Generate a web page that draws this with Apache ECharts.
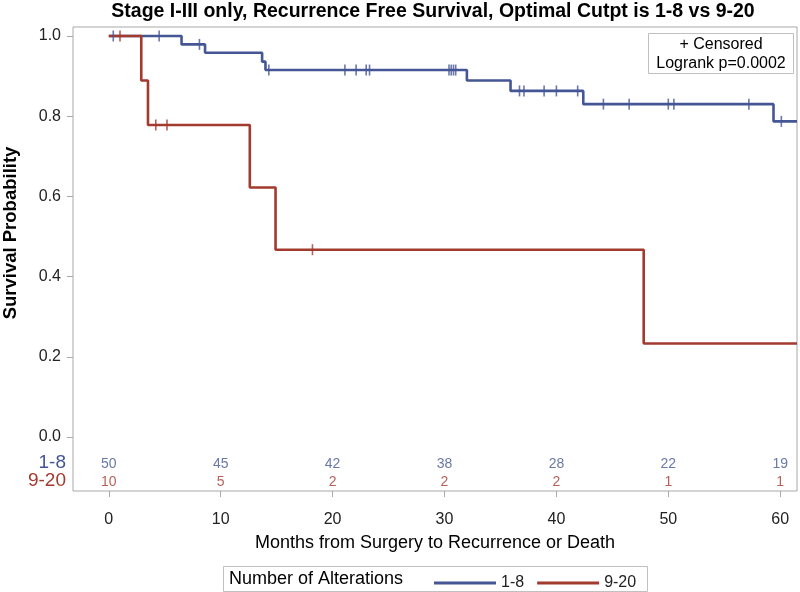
<!DOCTYPE html>
<html>
<head>
<meta charset="utf-8">
<script src="https://cdn.jsdelivr.net/npm/echarts@6/dist/echarts.min.js"></script>
<style>html,body{margin:0;padding:0;background:#fff;}#c{width:800px;height:592px;}</style>
</head>
<body>
<div id="c"></div>
<script>
const titleText = 'Stage I-III only, Recurrence Free Survival, Optimal Cutpt is 1-8 vs 9-20';
const groups = ['1-8', '9-20'];
const xTicks = [0, 10, 20, 30, 40, 50, 60];
const yTicks = [0, 0.2, 0.4, 0.6, 0.8, 1.0];
const blueTimes = [0, 6.5, 8.6, 13.7, 14.0, 32.0, 35.9, 42.4, 59.4];
const blueSurv  = [1, 0.979, 0.958, 0.936, 0.915, 0.889, 0.863, 0.830, 0.787];
const blueCensor = [0.4, 4.5, 8.1, 14.3, 21.1, 22.1, 23.0, 23.3, 30.4, 30.6, 30.8, 31.0, 36.7, 37.1, 38.9, 40.0, 41.9, 44.2, 46.5, 50.0, 50.5, 57.2, 60.1];
const redTimes = [0, 2.9, 3.5, 12.6, 14.9, 47.8];
const redSurv  = [1, 0.889, 0.778, 0.622, 0.467, 0.233];
const redCensor = [1.0, 4.2, 5.2, 18.2];
const blueAtRisk = [50, 45, 42, 38, 28, 22, 19];
const redAtRisk  = [10, 5, 2, 2, 2, 1, 1];
const legendTitle = 'Number of Alterations';
const insetLines = ['+ Censored', 'Logrank p=0.0002'];

const BLUE = '#445694', RED = '#A23A2E';
const FONT = '"Liberation Sans", Arial, sans-serif';
const xMin = -3.2, xMax = 61.5, yMin = -0.1347, yMax = 1.0224;
const riskY = [-0.068, -0.112];

function survAt(times, surv, t) {
  let s = surv[0];
  for (let i = 0; i < times.length; i++) if (times[i] <= t) s = surv[i];
  return s;
}
function stepData(times, surv) {
  const d = times.map((t, i) => [t, surv[i]]);
  d.push([xMax, surv[surv.length - 1]]);
  return d;
}
function censorData(times, surv, cens) {
  return cens.map(t => [t, survAt(times, surv, t)]);
}
function riskData(counts, y) {
  return xTicks.map((t, i) => [t, y, counts[i]]);
}

const chart = echarts.init(document.getElementById('c'), null, {renderer: 'canvas'});
const censorSymbol = {symbol: 'rect', symbolSize: [1.6, 11]};

const option = {
  backgroundColor: '#fff',
  animation: false,
  textStyle: {fontFamily: FONT},
  grid: {left: 73, right: 3, top: 27, bottom: 101, show: true, borderColor: '#a9a9a9', borderWidth: 1},
  xAxis: {
    type: 'value', min: xMin, max: xMax,
    name: 'Months from Surgery to Recurrence or Death',
    nameLocation: 'middle', nameGap: 43,
    nameTextStyle: {fontSize: 18, color: '#000', fontFamily: FONT},
    axisLine: {show: false, onZero: false},
    axisTick: {show: true, inside: false, customValues: xTicks, length: 6, lineStyle: {color: '#a9a9a9'}},
    axisLabel: {customValues: xTicks, margin: 21, fontSize: 16, color: '#222', fontFamily: FONT},
    splitLine: {show: false}
  },
  yAxis: {
    type: 'value', min: yMin, max: yMax,
    axisLine: {show: false, onZero: false},
    axisTick: {show: true, inside: false, customValues: yTicks, length: 6, lineStyle: {color: '#a9a9a9'}},
    axisLabel: {customValues: yTicks, margin: 12, fontSize: 16, color: '#222', fontFamily: FONT,
      formatter: v => v.toFixed(1)},
    splitLine: {show: false}
  },
  legend: {
    data: groups.map(n => ({name: n, icon: 'rect'})), left: 429, top: 570, itemWidth: 62, itemHeight: 3, itemGap: 13,
    textStyle: {fontSize: 16, color: '#222', fontFamily: FONT}
  },
  series: [
    {name: groups[0], type: 'line', step: 'end', showSymbol: false, symbol: 'none',
      data: stepData(blueTimes, blueSurv), lineStyle: {color: BLUE, width: 2.6}, itemStyle: {color: BLUE}, z: 3},
    {name: groups[1], type: 'line', step: 'end', showSymbol: false, symbol: 'none',
      data: stepData(redTimes, redSurv), lineStyle: {color: RED, width: 2.6}, itemStyle: {color: RED}, z: 3},
    Object.assign({type: 'scatter', data: censorData(blueTimes, blueSurv, blueCensor), itemStyle: {color: BLUE}, z: 4}, censorSymbol),
    Object.assign({type: 'scatter', data: censorData(redTimes, redSurv, redCensor), itemStyle: {color: RED}, z: 4}, censorSymbol),
    {type: 'scatter', symbolSize: 0, data: riskData(blueAtRisk, riskY[0]),
      label: {show: true, position: 'inside', formatter: p => p.value[2], color: BLUE, fontSize: 14, fontFamily: FONT}},
    {type: 'scatter', symbolSize: 0, data: riskData(redAtRisk, riskY[1]),
      label: {show: true, position: 'inside', formatter: p => p.value[2], color: RED, fontSize: 14, fontFamily: FONT}}
  ],
  graphic: [
    {type: 'text', x: 433, y: 12, style: {text: titleText, fill: '#000', font: 'bold 19.5px ' + FONT, textAlign: 'center', textVerticalAlign: 'middle'}},
    {type: 'text', x: 66, y: 463, style: {text: groups[0], fill: BLUE, font: '19px ' + FONT, textAlign: 'right', textVerticalAlign: 'middle'}},
    {type: 'text', x: 66, y: 481, style: {text: groups[1], fill: RED, font: '19px ' + FONT, textAlign: 'right', textVerticalAlign: 'middle'}},
    {type: 'text', x: 11, y: 233, rotation: Math.PI / 2,
      style: {text: 'Survival Probability', fill: '#000', font: 'bold 18.5px ' + FONT, textAlign: 'center', textVerticalAlign: 'middle'}},
    {type: 'rect', shape: {x: 648.5, y: 33.5, width: 145, height: 40}, style: {fill: '#fff', stroke: '#c0c0c0', lineWidth: 1}, z: 10},
    {type: 'text', x: 721, y: 45, z: 11, style: {text: insetLines[0], fill: '#000', font: '16px ' + FONT, textAlign: 'center', textVerticalAlign: 'middle'}},
    {type: 'text', x: 721, y: 64, z: 11, style: {text: insetLines[1], fill: '#000', font: '16px ' + FONT, textAlign: 'center', textVerticalAlign: 'middle'}},
    {type: 'rect', shape: {x: 223.5, y: 566.5, width: 424, height: 25}, style: {fill: 'none', stroke: '#c0c0c0', lineWidth: 1}},
    {type: 'text', x: 229, y: 579, style: {text: legendTitle, fill: '#000', font: '18px ' + FONT, textVerticalAlign: 'middle'}}
  ]
};
chart.setOption(option);
</script>
</body>
</html>
